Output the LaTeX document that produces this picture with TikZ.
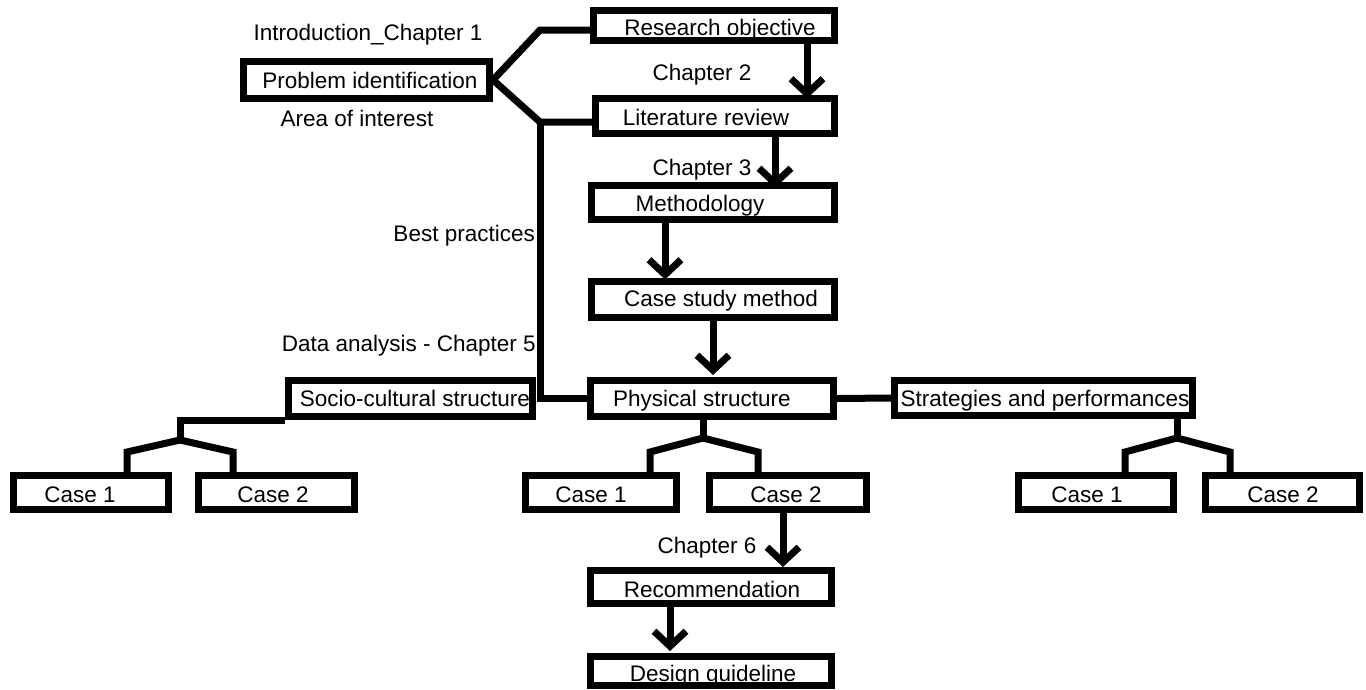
\documentclass[tikz,border=0pt]{standalone}
\usepackage{fontspec}
\setmainfont{Liberation Sans}
\usetikzlibrary{arrows.meta,calc}
\begin{document}
\begin{tikzpicture}[x=1pt,y=-1pt,
  box/.style={draw, line width=7pt, rectangle, inner sep=0pt},
  lbl/.style={font=\fontsize{22.5}{27}\selectfont, inner sep=0pt, text height=16pt, text depth=0pt},
  conn/.style={line width=7pt},
  arr/.style={line width=7pt, -{Straight Barb[length=15pt,width=32pt]}},
]
\useasboundingbox (0,0) rectangle (1366,689);

% ---- texts ----
\node[lbl] (intro) at (368,32) {Introduction\_Chapter 1};
\node[lbl] (area)  at (357,118) {Area of interest};
\node[lbl] (ch2)   at (702,72) {Chapter 2};
\node[lbl] (ch3)   at (702,167) {Chapter 3};
\node[lbl, anchor=east] (best) at (535,233) {Best practices};
\node[lbl, anchor=east] (data) at (536,343) {Data analysis - Chapter 5};
\node[lbl] (ch6)   at (707,545) {Chapter 6};

\node[lbl] (rot)   at (720,27)  {Research objective};
\node[lbl] (pit)   at (370,80)  {Problem identification};
\node[lbl] (lrt)   at (706,117) {Literature review};
\node[lbl] (mt)    at (700,203) {Methodology};
\node[lbl] (cst)   at (721,298) {Case study method};
\node[lbl] (pst)   at (702,398) {Physical structure};
\node[lbl] (sct)   at (415,398) {Socio-cultural structure};
\node[lbl] (spt)   at (1045,398) {Strategies and performances};
\node[lbl] (l1t)   at (80,494)   {Case 1};
\node[lbl] (l2t)   at (273,494)  {Case 2};
\node[lbl] (p1t)   at (591,494)  {Case 1};
\node[lbl] (p2t)   at (786,494)  {Case 2};
\node[lbl] (r1t)   at (1087,494) {Case 1};
\node[lbl] (r2t)   at (1283,494) {Case 2};
\node[lbl] (rect)  at (712,589)  {Recommendation};
\node[lbl] (dgt)   at (713,673)  {Design guideline};

% ---- boxes ----
\node[box, minimum width=241pt, minimum height=30pt] (ro) at (714,25.5) {};
\node[box, minimum width=246pt, minimum height=37pt] (pi) at (366.5,80) {};
\node[box, minimum width=239pt, minimum height=35pt] (lr) at (715,116) {};
\node[box, minimum width=243pt, minimum height=34pt] (me) at (713,202.5) {};
\node[box, minimum width=243pt, minimum height=36pt] (cs) at (713,299.5) {};
\node[box, minimum width=243pt, minimum height=36pt] (ph) at (712,398.5) {};
\node[box, minimum width=244pt, minimum height=36pt] (so) at (410.5,398.5) {};
\node[box, minimum width=298pt, minimum height=35pt] (st) at (1043.5,398) {};
\node[box, minimum width=155pt, minimum height=34pt] (l1) at (91,492.5) {};
\node[box, minimum width=156pt, minimum height=34pt] (l2) at (276.5,492.5) {};
\node[box, minimum width=151pt, minimum height=34pt] (p1) at (601,492.5) {};
\node[box, minimum width=157pt, minimum height=34pt] (p2) at (788,492.5) {};
\node[box, minimum width=155pt, minimum height=34pt] (r1) at (1096,492.5) {};
\node[box, minimum width=154pt, minimum height=34pt] (r2) at (1282.5,492.5) {};
\node[box, minimum width=241pt, minimum height=33pt] (rc) at (711,587) {};
\node[box, minimum width=241pt, minimum height=29pt] (dg) at (711,671) {};

% ---- junctions ----
\coordinate (j1) at (540,30);
\coordinate (j2) at (540,122);
\coordinate (sb) at (180,440);
\coordinate (pb) at (703,438);
\coordinate (rb) at (1177,438);

% ---- connectors ----
\draw[conn] (pi.east) -- (j1) -- (j1 -| ro.west);
\draw[conn] (pi.east) -- (j2) -- (j2 -| lr.west);
\draw[conn] (j2) -- (j2 |- ph.west) -- (ph.west);
\draw[conn] (ph.east) -- (st.west);

\draw[arr, shorten >=-3.5pt] ([xshift=93pt]ro.south) -- ([xshift=92pt]lr.north);
\draw[arr, shorten >=-6pt]   ([xshift=60pt]lr.south) -- ([xshift=62pt]me.north);
\draw[arr, shorten >=-1.5pt] ([xshift=-48pt]me.south) -- ([xshift=-48pt]cs.north);
\draw[arr, shorten >=2pt]    ([xshift=0pt]cs.south) -- ([xshift=1pt]ph.north);
\draw[arr]                   ([xshift=-5pt]p2.south) -- ([xshift=72pt]rc.north);
\draw[arr, shorten >=2pt]    ([xshift=-41pt]rc.south) -- ([xshift=-41pt]dg.north);

% trees
\draw[conn] (so.south west) -- (sb |- so.south west) -- (sb);
\draw[conn] (sb) -- (127,452) -- (127,452 |- l1.north);
\draw[conn] (sb) -- (233,452) -- (233,452 |- l2.north);

\draw[conn] (pb |- ph.south) -- (pb);
\draw[conn] (pb) -- (650,452) -- (650,452 |- p1.north);
\draw[conn] (pb) -- (758,452) -- (758,452 |- p2.north);

\draw[conn] (rb |- st.south) -- (rb);
\draw[conn] (rb) -- (1125,452) -- (1125,452 |- r1.north);
\draw[conn] (rb) -- (1230,452) -- (1230,452 |- r2.north);
\end{tikzpicture}
\end{document}
